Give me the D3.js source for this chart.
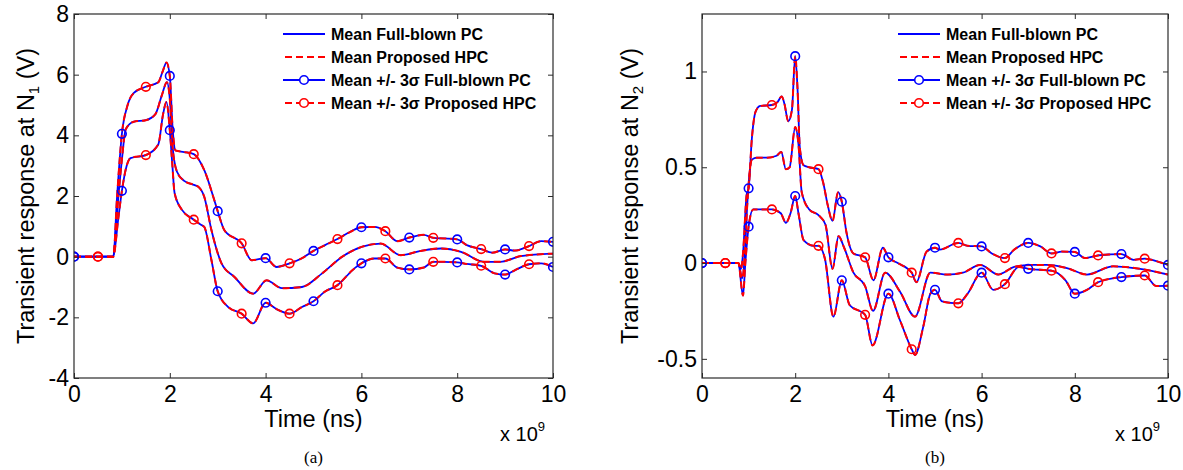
<!DOCTYPE html>
<html>
<head>
<meta charset="utf-8">
<script src="https://cdn.jsdelivr.net/npm/d3@7"></script>
<style>
  body { margin: 0; background: #ffffff; }
  svg { display: block; }
  text { font-family: "Liberation Sans", Arial, Helvetica, sans-serif; fill: #000; }
  text.tag { font-family: "Liberation Serif", "Times New Roman", serif; }
</style>
</head>
<body>
<svg id="fig" width="1183" height="470"></svg>
<script>
// ---- Transient response at node N1 : [time (ns), volts] ----
const n1Upper = [[0,0],[0.5,0],[0.82,0],[0.9,2.0],[1.0,4.05],[1.12,5.0],[1.25,5.4],[1.5,5.6],[1.76,5.75],[1.85,6.1],[1.93,6.4],[2.0,5.96],[2.06,4.2],[2.12,3.5],[2.3,3.45],[2.5,3.38],[2.72,2.85],[2.93,1.86],[3.0,1.5],[3.14,0.87],[3.5,0.44],[3.71,-0.12],[4.0,-0.05],[4.23,-0.34],[4.5,-0.22],[4.76,-0.05],[5.0,0.19],[5.24,0.38],[5.5,0.58],[5.77,0.82],[6.0,0.97],[6.27,0.98],[6.5,0.84],[6.75,0.51],[7.0,0.63],[7.3,0.72],[7.5,0.62],[7.72,0.6],[8.0,0.57],[8.2,0.38],[8.5,0.25],[8.73,0.13],[9.0,0.24],[9.2,0.2],[9.5,0.35],[9.75,0.51],[10,0.49]];
const n1Mean = [[0,0],[0.5,0],[0.82,0],[0.9,1.5],[1.0,3.2],[1.08,4.2],[1.25,4.45],[1.5,4.5],[1.7,4.7],[1.83,5.3],[1.94,5.75],[2.0,5.2],[2.06,3.6],[2.15,2.8],[2.3,2.5],[2.52,2.36],[2.6,2.3],[2.72,1.97],[2.87,0.87],[3.08,-0.22],[3.35,-0.67],[3.74,-1.22],[4.02,-0.78],[4.34,-1.04],[4.76,-1.0],[5.18,-0.55],[5.6,0.0],[6.02,0.33],[6.4,0.43],[6.82,0.05],[7.24,0.19],[7.66,0.27],[8.08,0.16],[8.56,-0.17],[8.9,-0.17],[9.33,0.02],[10,0.1]];
const n1Lower = [[0,0],[0.5,0],[0.82,0],[0.92,1.2],[1.0,2.17],[1.1,3.0],[1.18,3.25],[1.5,3.35],[1.76,3.7],[1.86,4.7],[1.93,5.1],[2.0,4.17],[2.05,3.1],[2.1,2.1],[2.25,1.55],[2.5,1.22],[2.65,1.05],[2.72,0.98],[2.87,-0.12],[3.0,-1.14],[3.22,-1.66],[3.5,-1.88],[3.74,-2.2],[4.0,-1.52],[4.23,-1.73],[4.5,-1.88],[4.76,-1.66],[5.0,-1.47],[5.24,-1.15],[5.5,-0.94],[5.81,-0.45],[6.0,-0.22],[6.27,-0.06],[6.5,-0.06],[6.75,-0.36],[7.0,-0.42],[7.3,-0.36],[7.5,-0.17],[7.72,-0.17],[8.0,-0.19],[8.2,-0.24],[8.5,-0.3],[8.78,-0.55],[9.0,-0.59],[9.2,-0.45],[9.5,-0.25],[9.75,-0.22],[10,-0.34]];

// ---- Transient response at node N2 : [time (ns), volts] ----
const n2Upper = [[0,0],[0.5,0],[0.78,0],[0.84,-0.03],[0.88,0.05],[0.96,0.36],[1.0,0.39],[1.07,0.65],[1.15,0.79],[1.25,0.82],[1.5,0.825],[1.62,0.84],[1.71,0.87],[1.77,0.83],[1.85,0.74],[1.93,0.8],[2.0,1.08],[2.05,0.91],[2.1,0.6],[2.18,0.51],[2.3,0.5],[2.5,0.49],[2.6,0.42],[2.7,0.3],[2.8,0.22],[2.92,0.37],[3.0,0.32],[3.1,0.16],[3.25,0.05],[3.5,0.03],[3.68,-0.09],[3.88,0.08],[4.0,0.03],[4.2,0.0],[4.5,-0.05],[4.6,-0.1],[4.82,0.06],[5.0,0.08],[5.1,0.07],[5.5,0.105],[5.7,0.09],[6.0,0.087],[6.22,0.05],[6.5,0.026],[6.7,0.07],[7.0,0.105],[7.26,0.087],[7.5,0.05],[7.72,0.06],[8.0,0.058],[8.22,0.026],[8.5,0.04],[8.76,0.045],[9.0,0.047],[9.26,0.017],[9.5,0.023],[9.75,0.01],[10,-0.01]];
const n2Mean = [[0,0],[0.5,0],[0.78,0],[0.86,-0.08],[0.92,0.05],[0.97,0.3],[1.07,0.54],[1.18,0.55],[1.4,0.55],[1.6,0.56],[1.7,0.58],[1.8,0.49],[1.88,0.5],[2.0,0.71],[2.07,0.62],[2.14,0.37],[2.3,0.28],[2.5,0.25],[2.65,0.2],[2.8,-0.03],[2.93,0.14],[3.05,0.08],[3.25,-0.05],[3.5,-0.12],[3.67,-0.25],[3.93,-0.05],[4.25,-0.15],[4.57,-0.28],[4.9,-0.05],[5.26,-0.06],[5.6,-0.05],[5.97,-0.01],[6.36,-0.06],[6.7,-0.02],[7.05,-0.01],[7.4,-0.01],[7.83,-0.026],[8.26,-0.06],[8.82,-0.017],[9.4,-0.03],[10,-0.06]];
const n2Lower = [[0,0],[0.5,0],[0.78,0],[0.88,-0.17],[0.93,0.0],[1.0,0.19],[1.1,0.28],[1.25,0.28],[1.5,0.28],[1.69,0.26],[1.8,0.21],[1.9,0.26],[2.0,0.35],[2.07,0.26],[2.18,0.12],[2.4,0.09],[2.5,0.09],[2.64,0.02],[2.82,-0.28],[3.0,-0.09],[3.17,-0.22],[3.5,-0.27],[3.66,-0.43],[4.0,-0.16],[4.25,-0.3],[4.5,-0.45],[4.57,-0.48],[4.75,-0.33],[4.9,-0.16],[5.0,-0.14],[5.15,-0.2],[5.5,-0.21],[5.7,-0.16],[6.0,-0.05],[6.25,-0.14],[6.5,-0.11],[6.8,-0.02],[7.0,-0.03],[7.5,-0.04],[7.8,-0.09],[8.0,-0.16],[8.26,-0.14],[8.5,-0.1],[9.0,-0.073],[9.5,-0.065],[9.75,-0.12],[10,-0.118]];

// ---- Axis ticks and legend labels ----
const timeTicks = [0, 2, 4, 6, 8, 10];
const n1Ticks = [-4, -2, 0, 2, 4, 6, 8];
const n2Ticks = [-0.5, 0, 0.5, 1];
const legendLabels = ["Mean Full-blown PC", "Mean Proposed HPC", "Mean +/- 3\u03c3 Full-blown PC", "Mean +/- 3\u03c3 Proposed HPC"];

const BLUE = "#0000ff", RED = "#ff0000", AXIS = "#2a2a2a";

const panels = [
  { left: 74, right: 553, top: 14, bottom: 378, yDomain: [-4, 8], yTicks: n1Ticks, node: "1",
    mean: n1Mean, upper: n1Upper, lower: n1Lower, legendX: 283, labelX: 34, tag: "(a)" },
  { left: 702, right: 1168, top: 14, bottom: 378, yDomain: [-0.6, 1.3], yTicks: n2Ticks, node: "2",
    mean: n2Mean, upper: n2Upper, lower: n2Lower, legendX: 898, labelX: 638, tag: "(b)" }
];

const svg = d3.select("#fig");
const fmt = d => String(d);

panels.forEach((p, i) => {
  const x = d3.scaleLinear().domain([0, 10]).range([p.left, p.right]);
  const y = d3.scaleLinear().domain(p.yDomain).range([p.bottom, p.top]);
  const g = svg.append("g");

  const clipId = "clip" + i;
  g.append("clipPath").attr("id", clipId).append("rect")
    .attr("x", p.left).attr("y", p.top).attr("width", p.right - p.left).attr("height", p.bottom - p.top);

  const line = d3.line().x(d => x(d[0])).y(d => y(d[1])).curve(d3.curveMonotoneX);
  const curves = [p.mean, p.upper, p.lower];
  const plot = g.append("g").attr("clip-path", `url(#${clipId})`);

  // full-blown PC: solid blue
  curves.forEach(c => plot.append("path").attr("d", line(c))
    .attr("fill", "none").attr("stroke", BLUE).attr("stroke-width", 1.8));
  // proposed HPC: dashed red on top
  curves.forEach(c => plot.append("path").attr("d", line(c))
    .attr("fill", "none").attr("stroke", RED).attr("stroke-width", 2).attr("stroke-dasharray", "7,4"));

  // circle markers on the +/- 3 sigma envelopes
  [p.upper, p.lower].forEach(c => {
    plot.selectAll(null).data(c.filter(d => Number.isInteger(d[0] * 2) && !Number.isInteger(d[0])))
      .join("circle").attr("cx", d => x(d[0])).attr("cy", d => y(d[1])).attr("r", 4.3)
      .attr("fill", "none").attr("stroke", RED).attr("stroke-width", 1.6);
    plot.selectAll(null).data(c.filter(d => Number.isInteger(d[0])))
      .join("circle").attr("cx", d => x(d[0])).attr("cy", d => y(d[1])).attr("r", 4.3)
      .attr("fill", "none").attr("stroke", BLUE).attr("stroke-width", 1.6);
  });

  // axes with inward ticks on all four sides
  const axStyle = sel => {
    sel.select(".domain").remove();
    sel.selectAll(".tick line").attr("stroke", AXIS);
    sel.selectAll(".tick text").attr("font-size", 23).attr("fill", "#000");
  };
  g.append("g").attr("transform", `translate(0,${p.bottom})`)
    .call(d3.axisBottom(x).tickValues(timeTicks).tickFormat(fmt).tickSizeInner(-5).tickSizeOuter(0).tickPadding(8))
    .call(axStyle);
  g.append("g").attr("transform", `translate(0,${p.top})`)
    .call(d3.axisTop(x).tickValues(timeTicks).tickFormat("").tickSizeInner(-5).tickSizeOuter(0))
    .call(axStyle);
  g.append("g").attr("transform", `translate(${p.left},0)`)
    .call(d3.axisLeft(y).tickValues(p.yTicks).tickFormat(fmt).tickSizeInner(-5).tickSizeOuter(0).tickPadding(5))
    .call(axStyle);
  g.append("g").attr("transform", `translate(${p.right},0)`)
    .call(d3.axisRight(y).tickValues(p.yTicks).tickFormat("").tickSizeInner(-5).tickSizeOuter(0))
    .call(axStyle);

  g.append("rect").attr("x", p.left).attr("y", p.top)
    .attr("width", p.right - p.left).attr("height", p.bottom - p.top)
    .attr("fill", "none").attr("stroke", AXIS).attr("stroke-width", 1.2);

  // axis titles
  const cx = (p.left + p.right) / 2, cy = (p.top + p.bottom) / 2;
  g.append("text").attr("x", cx).attr("y", 427).attr("text-anchor", "middle")
    .attr("font-size", 23.5).text("Time (ns)");

  const yl = g.append("text").attr("transform", `translate(${p.labelX},${cy}) rotate(-90)`)
    .attr("text-anchor", "middle").attr("font-size", 23.5);
  yl.append("tspan").text("Transient response at N");
  yl.append("tspan").attr("font-size", 15).attr("dy", 5).text(p.node);
  yl.append("tspan").attr("dy", -5).text(" (V)");

  const ex = g.append("text").attr("x", p.right - 8).attr("y", 441).attr("text-anchor", "end").attr("font-size", 20);
  ex.append("tspan").text("x 10");
  ex.append("tspan").attr("font-size", 13).attr("dy", -10).text("9");

  g.append("text").attr("class", "tag").attr("x", cx).attr("y", 463).attr("text-anchor", "middle")
    .attr("font-size", 17).text(p.tag);

  // legend (no frame)
  const lg = g.append("g");
  const styles = [
    { stroke: BLUE, dash: null, marker: false },
    { stroke: RED, dash: "7,4", marker: false },
    { stroke: BLUE, dash: null, marker: true },
    { stroke: RED, dash: "7,4", marker: true }
  ];
  legendLabels.forEach((lab, k) => {
    const ly = 34 + k * 23;
    const s = styles[k];
    const seg = lg.append("line").attr("x1", p.legendX).attr("x2", p.legendX + 42)
      .attr("y1", ly).attr("y2", ly).attr("stroke", s.stroke).attr("stroke-width", 2);
    if (s.dash) seg.attr("stroke-dasharray", s.dash).attr("stroke-dashoffset", -2);
    if (s.marker) lg.append("circle").attr("cx", p.legendX + 21).attr("cy", ly).attr("r", 4.3)
      .attr("fill", "#fff").attr("stroke", s.stroke).attr("stroke-width", 1.6);
    lg.append("text").attr("x", p.legendX + 48).attr("y", ly + 5.5)
      .attr("font-size", 16).attr("font-weight", "bold").text(lab);
  });
});
</script>
</body>
</html>
